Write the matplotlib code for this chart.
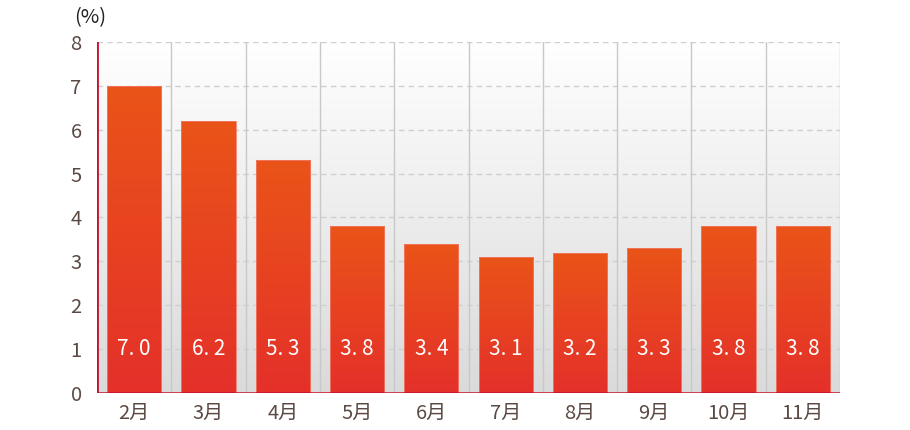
import matplotlib
matplotlib.use("Agg")
import matplotlib.pyplot as plt
import numpy as np
from matplotlib.colors import LinearSegmentedColormap

plt.rcParams['font.family'] = ['Noto Sans CJK SC', 'DejaVu Sans']

months = ["2月", "3月", "4月", "5月", "6月", "7月", "8月", "9月", "10月", "11月"]
values = [7.0, 6.2, 5.3, 3.8, 3.4, 3.1, 3.2, 3.3, 3.8, 3.8]
yticks = [0, 1, 2, 3, 4, 5, 6, 7, 8]

red = "#c8102e"
text_color = "#5b4a44"

fig = plt.figure(figsize=(9.1, 4.3), dpi=100)
ax = fig.add_axes([97 / 910, 37 / 430, 743 / 910, 351 / 430])
x = np.arange(len(months))
ax.set_xlim(-0.5, len(months) - 0.5)
ax.set_ylim(0, 8)

# plot-area background gradient (white top -> light gray bottom)
bg = LinearSegmentedColormap.from_list("bg", ["#dadada", "#ffffff"])
grad = np.linspace(0, 1, 256).reshape(-1, 1)
ax.imshow(grad, cmap=bg, aspect="auto", origin="lower",
          extent=[0, 1, 0, 1], transform=ax.transAxes, zorder=0)

# grid
for y in yticks[1:]:
    ax.axhline(y, color="#cfcfcf", lw=1, ls=(0, (4, 3)), zorder=1)
for b in np.arange(0.5, len(months), 1.0):
    ax.axvline(b, color="#c8c8c8", lw=1, zorder=1)

# bars with vertical gradient (red bottom -> orange top on each bar)
bar_cmap = LinearSegmentedColormap.from_list("bar", ["#e4302a", "#ea5418"])
bars = ax.bar(x, values, width=0.73, color="none", edgecolor="#f07a68",
              linewidth=0.6, zorder=3)
for rect, v in zip(bars, values):
    x0 = rect.get_x()
    w = rect.get_width()
    im = ax.imshow(grad, cmap=bar_cmap, vmin=0, vmax=1, aspect="auto",
                   origin="lower", extent=[x0, x0 + w, 0, v], zorder=2)
    im.set_clip_path(rect)
    ax.text(x0 + w / 2, 1.0, f"{v:.1f}".replace(".", ". "),
            ha="center", va="center", color="white", fontsize=15, zorder=4)

# axes lines
for s in ax.spines.values():
    s.set_visible(False)
ax.axvline(-0.5, color=red, lw=2, zorder=5)
ax.axhline(0, color=red, lw=1.8, zorder=5)

ax.set_yticks(yticks)
ax.set_yticklabels([str(t) for t in yticks])
ax.set_xticks(x)
ax.set_xticklabels(months)
ax.tick_params(axis="both", length=0, labelsize=14.5, colors=text_color)
ax.tick_params(axis="y", pad=11)
ax.tick_params(axis="x", pad=7)

fig.text(90 / 910, 1 - 18 / 430, "(%)", ha="center", va="center",
         fontsize=14.5, color="#222222")

fig.savefig("out.png", dpi=100)
